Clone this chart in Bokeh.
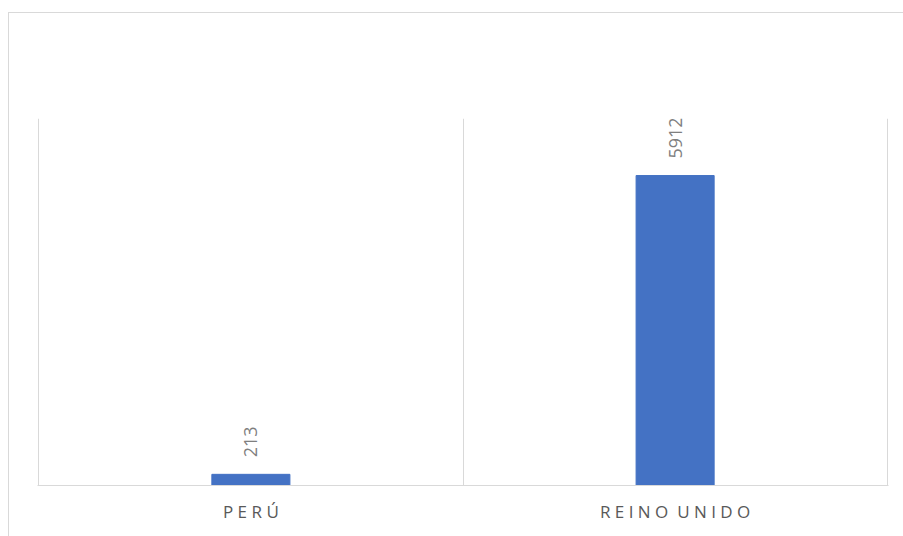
import numpy as np
from bokeh.plotting import figure
from bokeh.models import ColumnDataSource, FixedTicker, Range1d
from bokeh.core.properties import value
from bokeh.embed import file_html
from bokeh.resources import INLINE

categories = ["PERÚ", "REINO UNIDO"]
tick_labels = ["P E R Ú", "R E I N O\u00a0\u00a0U N I D O"]
values = [213, 5912]

xs = [i + 0.5 for i in range(len(categories))]
src = ColumnDataSource(dict(x=xs, top=values, label=[str(v) for v in values]))

p = figure(width=895, height=524, output_backend="svg", toolbar_location=None,
           x_range=Range1d(-0.003, len(categories) + 0.003), y_range=Range1d(0, 7000),
           min_border_left=28, min_border_right=16, min_border_top=105, min_border_bottom=52)
p.styles = {"margin-left": "8px", "margin-top": "12px",
            "border-left": "1px solid #d9d9d9", "border-top": "1px solid #d9d9d9"}
p.outline_line_color = None
p.background_fill_color = "white"

p.vbar(x="x", top="top", width=0.184, bottom=0, source=src, color="#4472c4")
p.text(x="x", y="top", text="label", source=src, angle=np.pi / 2, text_align="left",
       text_baseline="middle", y_offset=-17, text_font=value("Open Sans"),
       text_font_size="18px", text_color="#7f7f7f")

p.yaxis.visible = False
p.ygrid.visible = False
p.xaxis.ticker = FixedTicker(ticks=xs)
p.xaxis.major_label_overrides = {x: t for x, t in zip(xs, tick_labels)}
p.xaxis.major_tick_line_color = None
p.xaxis.minor_tick_line_color = None
p.xaxis.axis_line_color = "#d9d9d9"
p.xaxis.major_label_text_font = "Open Sans"
p.xaxis.major_label_text_font_size = "17px"
p.xaxis.major_label_text_color = "#595959"
p.xaxis.major_label_standoff = 8
p.xgrid.ticker = FixedTicker(ticks=list(range(len(categories) + 1)))
p.xgrid.grid_line_color = "#d9d9d9"

open("out.html", "w").write(file_html(p, INLINE))
